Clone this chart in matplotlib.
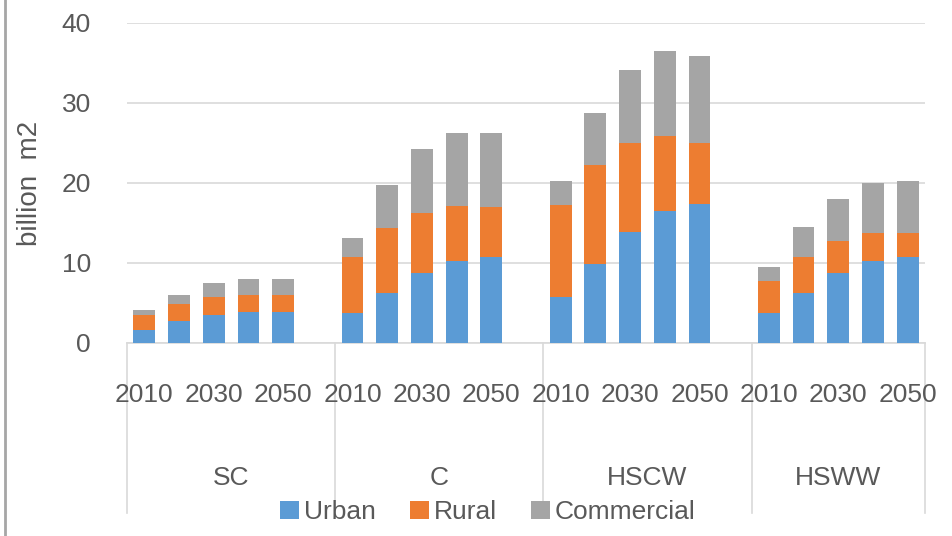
import matplotlib
matplotlib.use("Agg")
import matplotlib.pyplot as plt
from matplotlib.lines import Line2D
from matplotlib.patches import Patch

# Values (billion m2)
groups = ["SC", "C", "HSCW", "HSWW"]
years = [2010, 2020, 2030, 2040, 2050]
year_labels = ["2010", "", "2030", "", "2050"]

urban = [1.6, 2.7, 3.5, 3.9, 3.9,
         3.7, 6.3, 8.7, 10.3, 10.8,
         5.8, 9.9, 13.9, 16.5, 17.4,
         3.7, 6.3, 8.7, 10.3, 10.8]
rural = [1.9, 2.2, 2.3, 2.15, 2.15,
         7.1, 8.1, 7.6, 6.8, 6.2,
         11.5, 12.4, 11.1, 9.4, 7.6,
         4.0, 4.5, 4.0, 3.5, 2.9]
commercial = [0.6, 1.15, 1.65, 2.0, 2.0,
              2.3, 5.3, 8.0, 9.15, 9.25,
              2.95, 6.4, 9.1, 10.65, 10.9,
              1.8, 3.65, 5.35, 6.25, 6.55]

series_names = ["Urban", "Rural", "Commercial"]
colors = ["#5B9BD5", "#ED7D31", "#A5A5A5"]
text_color = "#595959"
grid_color = "#D9D9D9"

plt.rcParams['font.family'] = ['Liberation Sans', 'DejaVu Sans']
fs = 19

fig = plt.figure(figsize=(9.52, 5.36), dpi=100)
W, H = 952, 536
left, right, top, bottom = 127, 925, 23, 343
ax = fig.add_axes([left / W, 1 - bottom / H, (right - left) / W, (bottom - top) / H])

# slot positions: each group has 6 slots (last blank) except the final group
n_years = len(years)
x = []
for gi in range(len(groups)):
    for j in range(n_years):
        x.append(gi * (n_years + 1) + j)
n_slots = len(groups) * (n_years + 1) - 1

base2 = [u + r for u, r in zip(urban, rural)]
bw = 0.63
ax.bar(x, urban, width=bw, color=colors[0], zorder=3)
ax.bar(x, rural, width=bw, bottom=urban, color=colors[1], zorder=3)
ax.bar(x, commercial, width=bw, bottom=base2, color=colors[2], zorder=3)

ax.set_xlim(-0.5, n_slots - 0.5)
ax.set_ylim(0, 40)
ax.set_yticks([0, 10, 20, 30, 40])
ax.yaxis.grid(True, color=grid_color, linewidth=1.2, zorder=0)
ax.set_xticks([])
ax.tick_params(axis='y', length=0, pad=26, labelsize=fs, colors=text_color)
for s in ["top", "right", "left"]:
    ax.spines[s].set_visible(False)
ax.spines["bottom"].set_color(grid_color)
ax.spines["bottom"].set_linewidth(1.2)

ax.set_ylabel("billion  m2", fontsize=fs + 1, color=text_color, labelpad=13)

# multi-level category axis
trans = ax.get_xaxis_transform()
sep_bottom = -(513 - bottom) / (bottom - top)
year_y = -(395 - bottom) / (bottom - top)
group_y = -(478 - bottom) / (bottom - top)
seps = [-0.5] + [gi * (n_years + 1) - 0.5 for gi in range(1, len(groups))] + [n_slots - 0.5]
for s in seps:
    ax.add_line(Line2D([s, s], [0, sep_bottom], transform=trans, color=grid_color,
                       linewidth=1.2, clip_on=False))
for i, xi in enumerate(x):
    lab = year_labels[i % n_years]
    if lab:
        ax.text(xi, year_y, lab, transform=trans, ha='center', va='center',
                fontsize=fs, color=text_color)
for gi, g in enumerate(groups):
    cx = (seps[gi] + seps[gi + 1]) / 2
    ax.text(cx, group_y, g, transform=trans, ha='center', va='center',
            fontsize=fs, color=text_color)

handles = [Patch(facecolor=c, edgecolor='none') for c in colors]
fig.legend(handles, series_names, loc='center', bbox_to_anchor=(488 / W, 1 - 512 / H),
           ncol=3, frameon=False, fontsize=fs, labelcolor=text_color,
           handlelength=0.7, handleheight=0.7, handletextpad=0.2, columnspacing=1.3)

# left border of the chart frame
fig.add_artist(Line2D([5 / W, 5 / W], [0, 1], color="#A6A6A6", linewidth=2,
                      transform=fig.transFigure))

fig.savefig("out.png", dpi=100, facecolor="white")
